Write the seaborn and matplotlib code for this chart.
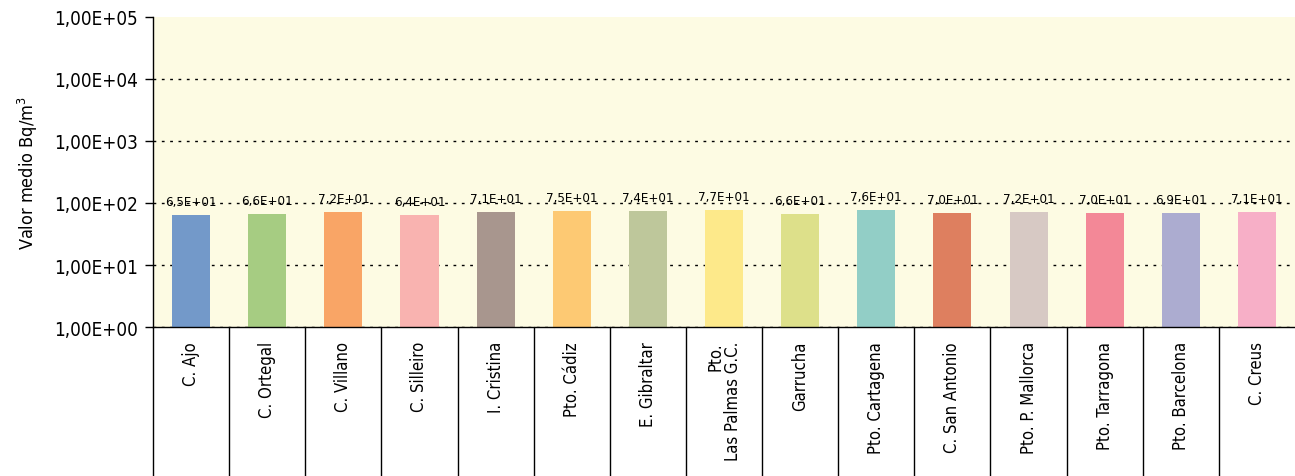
import matplotlib
matplotlib.use("Agg")
import matplotlib.pyplot as plt
import matplotlib.ticker as mticker
import matplotlib.transforms as mtransforms
import pandas as pd
import seaborn as sns

stations = ["C. Ajo", "C. Ortegal", "C. Villano", "C. Silleiro", "I. Cristina",
            "Pto. Cádiz", "E. Gibraltar", "Pto.\nLas Palmas G.C.", "Garrucha",
            "Pto. Cartagena", "C. San Antonio", "Pto. P. Mallorca", "Pto. Tarragona",
            "Pto. Barcelona", "C. Creus"]
values = [65, 66, 72, 64, 71, 75, 74, 77, 66, 76, 70, 72, 70, 69, 71]
bar_colors = ["#7399C9", "#A6CC82", "#F9A566", "#F9B3B0", "#A8968E",
              "#FDC973", "#BEC79B", "#FDE98A", "#DDE08A", "#92CEC6",
              "#DE7F5F", "#D7C9C4", "#F38897", "#ACACD0", "#F7AFC7"]
y_ticks = [1e0, 1e1, 1e2, 1e3, 1e4, 1e5]

sns.set_style("white")
plt.rcParams["font.family"] = ["DejaVu Sans Condensed", "DejaVu Sans"]
plt.rcParams["font.stretch"] = "condensed"

df = pd.DataFrame({"station": stations, "value": values})

fig = plt.figure(figsize=(12.95, 4.77), dpi=100)
ax = fig.add_axes([153 / 1295, 1 - 328 / 477, 1 - 153 / 1295, 310 / 477])
ax.set_facecolor("#FDFBE3")
ax.set_yscale("log")
sns.barplot(data=df, x="station", y="value", hue="station", palette=bar_colors,
            dodge=False, legend=False, width=0.5, saturation=1, linewidth=0, ax=ax)
ax.set_ylim(1, 1e5)
ax.set_xlim(-0.5, len(stations) - 0.5)

ax.set_yticks(y_ticks)
ax.yaxis.set_minor_locator(mticker.NullLocator())
ax.yaxis.set_major_formatter(mticker.FuncFormatter(
    lambda v, p: f"{v:.2E}".replace(".", ",")))
ax.tick_params(axis="y", labelsize=13.5, length=6, width=1, direction="out",
               left=True, pad=5, colors="black")
ax.yaxis.grid(True, which="major", color="black", linestyle=(0, (2, 4)), linewidth=1)
ax.set_axisbelow(True)
fig.canvas.draw()
ax.yaxis.get_gridlines()[-1].set_visible(False)

ax.set_xticks([])
ax.set_xlabel("")
ax.set_ylabel("Valor medio Bq/m$^3$", fontsize=13, labelpad=10, color="black")

for s in ["top", "right"]:
    ax.spines[s].set_visible(False)
for s in ["left", "bottom"]:
    ax.spines[s].set_color("black")
    ax.spines[s].set_linewidth(1)

# value labels
for i, v in enumerate(values):
    lab = f"{v / 10:.1f}E+01".replace(".", ",")
    ax.annotate(lab, (i, v), xytext=(0, 5), textcoords="offset points",
                ha="center", va="bottom", fontsize=9.5, color="black")

# table-like category cells under the axis
trans = mtransforms.blended_transform_factory(ax.transData, ax.transAxes)
for b in range(len(stations)):
    ax.plot([b - 0.5, b - 0.5], [0, -0.5], transform=trans, color="black",
            linewidth=1, clip_on=False)
for i, name in enumerate(stations):
    ax.text(i, -0.045, name, transform=trans, rotation=90, ha="center", va="top",
            multialignment="right", fontsize=12, linespacing=1.0, color="black")

fig.savefig("out.png", dpi=100)
